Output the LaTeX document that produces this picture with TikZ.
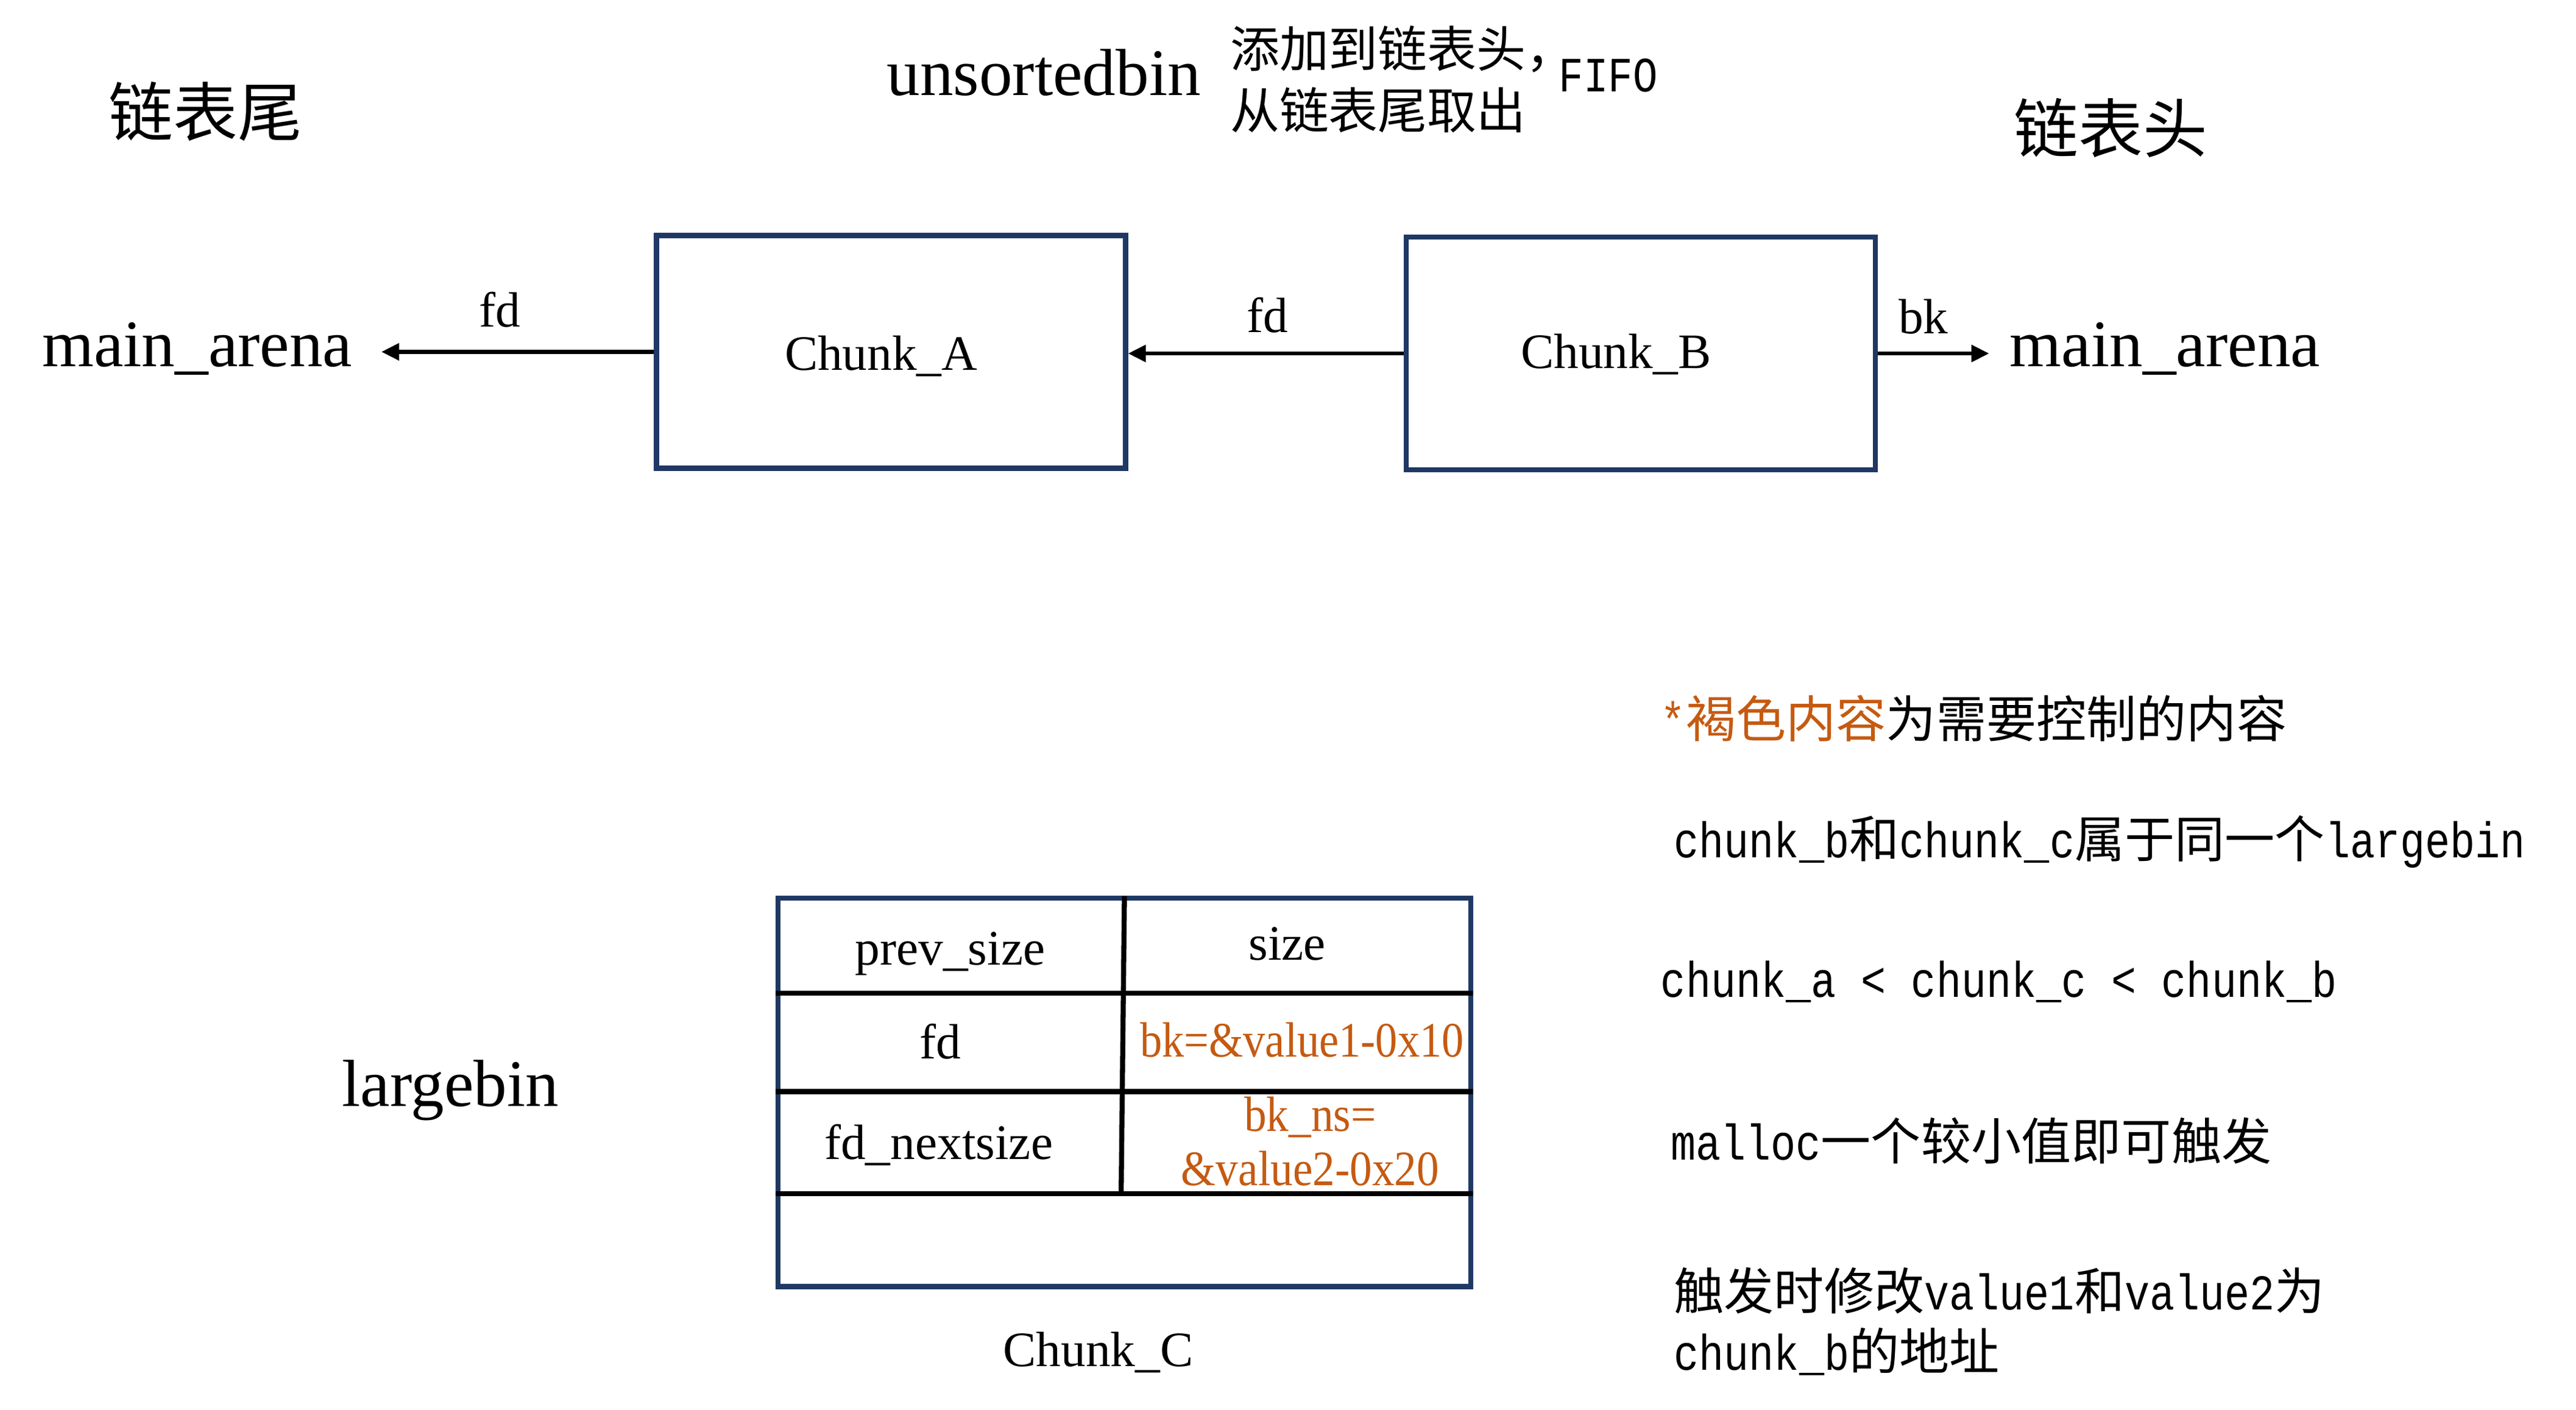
\documentclass[tikz,border=0pt]{standalone}
\usepackage{fontspec}
\setmainfont{Liberation Serif}
\newfontfamily\cjk{Noto Sans CJK SC}
\newfontfamily\mono{Liberation Mono}[FakeStretch=0.8333]
\usetikzlibrary{arrows.meta}
\definecolor{navyb}{RGB}{31,56,100}
\definecolor{ochre}{RGB}{197,90,17}
\tikzset{
  big/.style={font=\fontsize{26.3}{30}\selectfont, inner sep=0pt, anchor=base},
  mid/.style={font=\fontsize{19.6}{24}\selectfont, inner sep=0pt, anchor=base},
  cjktitle/.style={font=\cjk\fontsize{25.5}{30}\selectfont, inner sep=0pt},
  note/.style={font=\fontsize{19.8}{24}\selectfont, inner sep=0pt, anchor=west},
  chunkbox/.style={draw=navyb, line width=2pt, inner sep=0pt,
    minimum width=185.5pt, minimum height=92pt},
  link/.style={line width=1.6pt, -{Triangle[length=7pt,width=6.5pt]}},
  rule/.style={line width=2pt, black},
}
\begin{document}
\begin{tikzpicture}[x=0.65pt,y=-0.65pt]
\useasboundingbox[fill=white] (0,0) rectangle (1567,857.3);

% titles
\node[cjktitle] (tail) at (125,68) {链表尾};
\node[cjktitle] (head) at (1284,78) {链表头};
\node[big] (unsorted) at (635,58) {unsortedbin};
\node[note, font=\cjk\fontsize{19.5}{24}\selectfont] (note1) at (748,30) {添加到链表头，};
\node[note, font=\cjk\fontsize{19.5}{24}\selectfont] (note2) at (748,67) {从链表尾取出};
\node[note, font=\mono\fontsize{19.5}{24}\selectfont] (fifo) at (948,46) {FIFO};

% unsorted bin chain
\node[big] (ma1) at (120,223) {main\_arena};
\node[big] (ma2) at (1317,223) {main\_arena};
\node[chunkbox] (A) at (542,214) {};
\node[chunkbox] (B) at (998,215) {};
\node[mid] (Atext) at (536,225) {Chunk\_A};
\node[mid] (Btext) at (983,224) {Chunk\_B};
\coordinate (t1) at (232,214);
\coordinate (t2) at (1210,216);
\draw[link] (A.west) -- (A.west -| t1);
\draw[link] (B.west) -- (B.west -| A.east);
\draw[link] (B.east) -- (B.east -| t2);
\node[mid] (fd1) at (304,199) {fd};
\node[mid] (fd2) at (771,202) {fd};
\node[mid] (bk1) at (1170,203) {bk};

% largebin
\node[big] (lb) at (274,673) {largebin};
\node[draw=navyb, line width=2pt, inner sep=0pt, minimum width=274pt,
      minimum height=153.5pt] (tbl) at (684,664.5) {};
\draw[rule] (tbl.west |- 0,604) -- (tbl.east |- 0,604);
\draw[rule] (tbl.west |- 0,664) -- (tbl.east |- 0,664);
\draw[rule] (tbl.west |- 0,726) -- (tbl.east |- 0,726);
\draw[rule] (684,545) -- (682,726);
\node[mid] (c1) at (578,587) {prev\_size};
\node[mid] (c2) at (783,584) {size};
\node[mid] (c3) at (572,644) {fd};
\node[mid, text=ochre] (c4) at (792,643) {\scalebox{0.89}[1]{bk=\&value1-0x10}};
\node[mid] (c5) at (571,705) {fd\_nextsize};
\node[mid, text=ochre] (c6) at (797,688) {\scalebox{0.9}[1]{bk\_ns=}};
\node[mid, text=ochre] (c7) at (797,721) {\scalebox{0.9}[1]{\&value2-0x20}};
\node[mid] (cC) at (668,831) {Chunk\_C};

% notes
\node[note] (n1) at (1010,437) {{\color{ochre}{\mono *}{\cjk 褐色内容}}{\cjk 为需要控制的内容}};
\node[note] (n2) at (1018,512) {{\mono chunk\_b}{\cjk 和}{\mono chunk\_c}{\cjk 属于同一个}{\mono largebin}};
\node[note] (n3) at (1010,597) {{\mono chunk\_a < chunk\_c < chunk\_b}};
\node[note] (n4) at (1016,694) {{\mono malloc}{\cjk 一个较小值即可触发}};
\node[note] (n5) at (1018,785) {{\cjk 触发时修改}{\mono value1}{\cjk 和}{\mono value2}{\cjk 为}};
\node[note] (n6) at (1018,822) {{\mono chunk\_b}{\cjk 的地址}};
\end{tikzpicture}
\end{document}
